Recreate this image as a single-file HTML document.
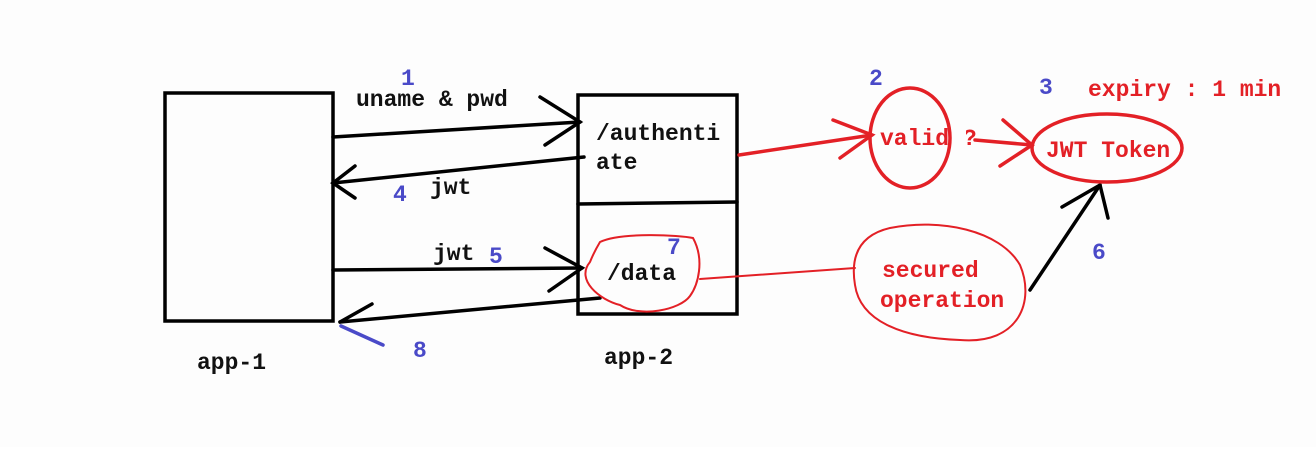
<!DOCTYPE html>
<html><head><meta charset="utf-8"><style>
html,body{margin:0;padding:0;background:#fff;}
svg text{font-family:"Liberation Mono",monospace;font-weight:bold;font-size:23px;}
</style></head><body>
<svg width="1316" height="447" viewBox="0 0 1316 447" xmlns="http://www.w3.org/2000/svg">
<rect width="1316" height="447" fill="#fdfdfd"/>
<g fill="none" stroke="#000" stroke-width="3.5" stroke-linecap="round">
<rect x="165" y="93" width="168" height="228"/>
<rect x="578" y="95" width="159" height="219"/>
<line x1="578" y1="204" x2="737" y2="202"/>
<line x1="333" y1="137" x2="580" y2="122"/>
<polyline points="540,97 580,122 545,145"/>
<line x1="584" y1="157" x2="333" y2="183"/>
<polyline points="355,166 333,183 355,198"/>
<line x1="333" y1="270" x2="582" y2="268"/>
<polyline points="545,248 582,268 549,291"/>
<line x1="600" y1="298" x2="340" y2="322"/>
<line x1="372" y1="304" x2="340" y2="322"/>
<line x1="1030" y1="290" x2="1100" y2="185"/>
<polyline points="1062,207 1100,185 1108,218"/>
</g>
<line x1="341" y1="326" x2="383" y2="345" stroke="#4a4ac8" stroke-width="3.5" stroke-linecap="round"/>
<g fill="#e32026">
<text x="880" y="145">valid ?</text>
</g>
<g fill="none" stroke="#e32026" stroke-width="3.5" stroke-linecap="round">
<line x1="739" y1="155" x2="872" y2="135"/>
<polyline points="833,120 872,135 840,158"/>
<ellipse cx="910" cy="138" rx="40" ry="50" fill="none"/>
<line x1="975" y1="140" x2="1032" y2="145"/>
<polyline points="1003,120 1032,145 1000,166"/>
<ellipse cx="1107" cy="148" rx="75" ry="34"/>
</g>
<rect x="952" y="120" width="14" height="40" fill="#fdfdfd"/>
<g fill="none" stroke="#e32026" stroke-width="2" stroke-linecap="round">
<path d="M600,242 C620,232 680,235 693,238 C705,260 698,285 690,296 C680,310 640,318 620,305 C600,300 575,280 590,262 C594,252 597,247 600,242 Z"/>
<line x1="700" y1="279" x2="855" y2="268"/>
<path d="M890,228 C940,218 1000,230 1020,265 C1035,300 1020,345 960,340 C900,338 860,320 855,285 C850,255 860,235 890,228 Z"/>
</g>
<g fill="#111">
<text x="356" y="106">uname &amp; pwd</text>
<text x="596" y="140">/authenti</text>
<text x="596" y="169">ate</text>
<text x="430" y="194">jwt</text>
<text x="433" y="260">jwt</text>
<text x="607" y="280">/data</text>
<text x="197" y="369">app-1</text>
<text x="604" y="364">app-2</text>
</g>
<g fill="#e32026">
<text x="1046" y="157">JWT Token</text>
<text x="1088" y="96">expiry : 1 min</text>
<text x="882" y="277">secured</text>
<text x="880" y="307">operation</text>
</g>
<g fill="#4a4ac8" style="font-family:'Liberation Sans',sans-serif;font-size:21px">
<text x="401" y="85">1</text>
<text x="869" y="85">2</text>
<text x="1039" y="94">3</text>
<text x="393" y="201">4</text>
<text x="489" y="263">5</text>
<text x="1092" y="259">6</text>
<text x="667" y="254">7</text>
<text x="413" y="357">8</text>
</g>
</svg>
</body></html>
